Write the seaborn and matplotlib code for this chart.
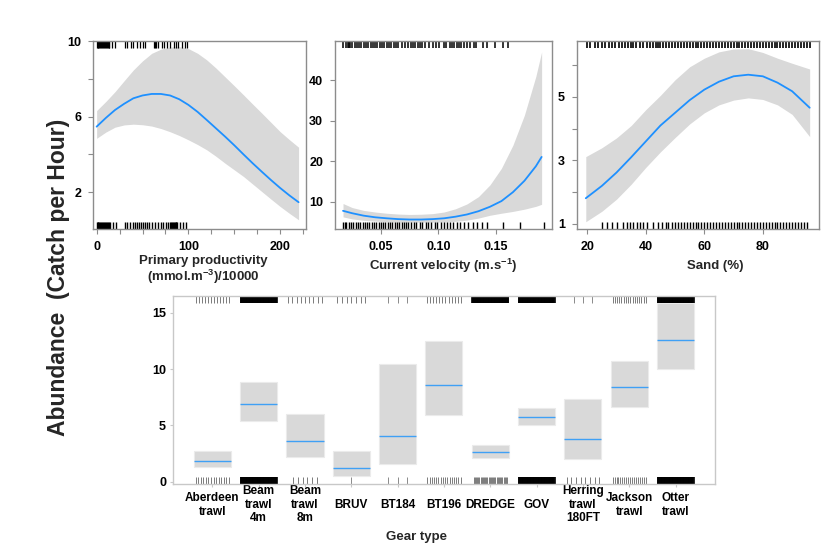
import numpy as np
import seaborn as sns
import matplotlib.pyplot as plt

sns.set_theme(style='ticks')
plt.rcParams['font.family'] = ['Liberation Sans', 'DejaVu Sans']
plt.rcParams['font.weight'] = 'bold'
plt.rcParams['mathtext.default'] = 'regular'

# ---- data ----
# primary productivity
pp_x = [0, 10, 20, 30, 40, 50, 60, 70, 80, 90, 100, 110, 120, 130, 140, 150, 160, 170,
        180, 190, 200, 210, 220]
pp_fit = [5.47, 5.93, 6.35, 6.68, 6.97, 7.12, 7.2, 7.2, 7.12, 6.92, 6.62, 6.25, 5.82, 5.38,
          4.94, 4.48, 4.0, 3.53, 3.08, 2.64, 2.22, 1.83, 1.47]
pp_lo = [4.85, 5.18, 5.44, 5.56, 5.6, 5.57, 5.5, 5.37, 5.2, 5.0, 4.77, 4.52, 4.24, 3.9, 3.53,
         3.18, 2.83, 2.43, 2.03, 1.63, 1.24, 0.88, 0.54]
pp_hi = [6.32, 6.8, 7.32, 7.9, 8.47, 8.95, 9.35, 9.57, 9.68, 9.7, 9.6, 9.35, 9.0, 8.57, 8.1,
         7.63, 7.15, 6.66, 6.18, 5.69, 5.2, 4.78, 4.38]
pp_rug_top = [0, 1, 2, 3, 4, 5, 6, 7, 8, 9, 10, 11, 12, 13, 14, 17, 20, 31, 33, 37, 40,
              44, 47, 50, 53, 62, 63.5, 65, 67, 71, 73, 77, 80, 84, 86, 89, 93, 96, 98]
pp_rug_bot = [0, 1, 2, 3, 4, 5, 6, 7, 8, 9, 10, 11, 12, 13, 15, 18, 21, 31, 33.4, 36.3,
              39.2, 41.7, 43.6, 46.5, 48, 50, 52.7, 55.2, 57.4, 60, 63.6, 67.2, 69.8, 72.7,
              75.6, 78.2, 80, 81, 82, 83, 84, 85, 86, 87, 88, 91, 94, 97.6]

# current velocity
cv_x = [0.017, 0.025, 0.035, 0.045, 0.055, 0.065, 0.075, 0.085, 0.095, 0.105, 0.115, 0.125,
        0.135, 0.145, 0.155, 0.165, 0.175, 0.185, 0.19]
cv_fit = [7.8, 7.2, 6.6, 6.2, 5.95, 5.75, 5.65, 5.65, 5.75, 5.95, 6.35, 6.9, 7.7, 8.8, 10.2,
          12.4, 15.2, 18.8, 21.1]
cv_lo = [6.3, 5.8, 5.45, 5.25, 5.1, 5.0, 5.0, 5.0, 5.0, 5.05, 5.2, 5.5, 6.0, 6.7, 7.2, 7.65,
         8.2, 8.9, 9.4]
cv_hi = [9.6, 8.6, 7.9, 7.5, 7.2, 7.0, 6.9, 6.95, 7.1, 7.5, 8.3, 9.5, 11.3, 14.2, 18.3, 24.0,
         31.4, 41.0, 47.0]
cv_rug_top = [0.017, 0.020, 0.021, 0.022, 0.023, 0.025, 0.027, 0.029, 0.031, 0.033, 0.035,
              0.037, 0.039, 0.041, 0.043, 0.045, 0.047, 0.049, 0.051, 0.053, 0.055, 0.057,
              0.059, 0.061, 0.063, 0.065, 0.068, 0.071, 0.074, 0.076, 0.078, 0.080, 0.082,
              0.084, 0.086, 0.088, 0.092, 0.095, 0.098, 0.101, 0.105, 0.107, 0.110, 0.112,
              0.114, 0.116, 0.118, 0.120, 0.122, 0.125, 0.128, 0.131, 0.133, 0.139, 0.142,
              0.149, 0.156, 0.161]
cv_rug_bot = [0.017, 0.019, 0.020, 0.022, 0.024, 0.026, 0.028, 0.030, 0.032, 0.034, 0.036,
              0.038, 0.040, 0.042, 0.044, 0.046, 0.048, 0.050, 0.052, 0.054, 0.056, 0.058,
              0.060, 0.062, 0.064, 0.066, 0.068, 0.070, 0.072, 0.074, 0.076, 0.079, 0.081,
              0.084, 0.086, 0.089, 0.091, 0.094, 0.097, 0.099, 0.102, 0.105, 0.108, 0.110,
              0.113, 0.116, 0.119, 0.122, 0.126, 0.130, 0.134, 0.138, 0.142, 0.156, 0.171,
              0.1925]

# sand
sd_x = [19.5, 25, 30, 35, 40, 45, 50, 55, 60, 65, 70, 75, 80, 85, 90, 96]
sd_fit = [1.81, 2.2, 2.62, 3.1, 3.6, 4.1, 4.5, 4.9, 5.23, 5.48, 5.65, 5.7, 5.65, 5.45, 5.18, 4.66]
sd_lo = [1.07, 1.4, 1.78, 2.25, 2.78, 3.27, 3.72, 4.15, 4.5, 4.75, 4.9, 4.97, 4.92, 4.75, 4.45, 3.75]
sd_hi = [3.12, 3.4, 3.71, 4.1, 4.6, 5.05, 5.54, 5.95, 6.22, 6.42, 6.51, 6.52, 6.4, 6.22, 6.06, 5.88]
sd_rug_top = [19.8, 20.9, 22.6, 23.5, 25, 26, 27.3, 28.5, 29.6, 30.8, 32, 33, 34, 34.8, 35.7,
              36.8, 38, 39.2, 40.3, 41.5, 42.6, 43.5, 44.3, 45, 46, 47, 48, 49, 50, 51, 52,
              53, 54, 55, 56, 57, 58, 59, 60, 61, 62, 63, 64, 65, 66, 67, 68, 69, 70, 71, 72,
              73, 74, 75, 76, 77, 78, 79, 80, 81, 82, 83, 84, 85, 86, 87, 88, 89, 90, 91, 92,
              93, 94, 95, 96]
sd_rug_bot = [24.9, 26.6, 28.3, 30, 32.3, 33.5, 34.7, 35.7, 36.9, 38, 39.2, 40.3, 42.6, 44.3,
              45.7, 46.8, 47.7, 48.8, 50, 51, 52, 53, 54, 55, 56, 57, 58, 59, 60, 61, 62, 63,
              64, 65, 66, 67, 68, 69, 70, 71, 72, 73, 74, 75, 76, 77, 78, 79, 80, 81, 82, 83,
              84, 85, 86, 87, 88, 89, 90, 91, 92, 93, 94, 95]

# gear type
gears = ['Aberdeen\ntrawl', 'Beam\ntrawl\n4m', 'Beam\ntrawl\n8m', 'BRUV', 'BT184', 'BT196',
         'DREDGE', 'GOV', 'Herring\ntrawl\n180FT', 'Jackson\ntrawl', 'Otter\ntrawl']
gear_fit = [1.85, 6.95, 3.6, 1.18, 4.08, 8.6, 2.6, 5.77, 3.81, 8.43, 12.63]
gear_lo = [1.27, 5.44, 2.18, 0.53, 1.62, 5.91, 2.1, 5.06, 2.0, 6.65, 10.03]
gear_hi = [2.7, 8.84, 6.03, 2.7, 10.5, 12.48, 3.25, 6.56, 7.39, 10.7, 15.9]
gear_n_top = [12, 60, 9, 7, 3, 12, 60, 60, 3, 16, 60]
gear_n_bot = [14, 60, 6, 1, 3, 16, 30, 60, 8, 18, 60]

# ---- figure ----
fig = plt.figure(figsize=(8.3, 5.6), dpi=100)
blue = '#1E90FF'
band = '#D9D9D9'
frame_top = '#8C8C8C'


def style_axes(ax, frame):
    for s in ax.spines.values():
        s.set_color(frame)
        s.set_linewidth(1.0)
    ax.tick_params(which='both', colors=frame, labelcolor='black', length=3.6,
                   width=0.8, pad=5, labelsize=9)


def rugs(ax, top, bot, lw):
    sns.rugplot(x=bot, height=0.035, ax=ax, color='black', lw=lw)
    ax.vlines(top, 0.965, 1, transform=ax.get_xaxis_transform(), color='black', lw=lw)


def smooth_panel(rect, x, fit, lo, hi, top, bot, lw):
    ax = fig.add_axes(rect)
    ax.fill_between(x, lo, hi, color=band, lw=0)
    sns.lineplot(x=x, y=fit, ax=ax, color=blue, lw=1.3)
    rugs(ax, top, bot, lw)
    style_axes(ax, frame_top)
    return ax


ax1 = smooth_panel([0.112, 0.591, 0.2566, 0.3357], pp_x, pp_fit, pp_lo, pp_hi,
                   pp_rug_top, pp_rug_bot, 0.9)
ax1.set_xlim(-4, 228)
ax1.set_ylim(0.05, 10.0)
ax1.set_xticks([0, 100, 200])
ax1.set_xticks([25, 50, 75, 125, 150, 175, 225], minor=True)
ax1.set_yticks([2, 6, 10])
ax1.set_yticks([4, 8], minor=True)
ax1.set_xlabel('Primary productivity\n(mmol.m$^{-3}$)/10000', fontsize=9.5,
               fontweight='bold', va='center', linespacing=1.05)
ax1.xaxis.set_label_coords(0.52, -0.22)

ax2 = smooth_panel([0.4036, 0.591, 0.2614, 0.3357], cv_x, cv_fit, cv_lo, cv_hi,
                   cv_rug_top, cv_rug_bot, 1.1)
ax2.set_xlim(0.010, 0.199)
ax2.set_ylim(3.3, 49.7)
ax2.set_xticks([0.05, 0.10, 0.15])
ax2.set_xticklabels(['0.05', '0.10', '0.15'])
ax2.set_yticks([10, 20, 30, 40])
ax2.set_xlabel('Current velocity (m.s$^{-1}$)', fontsize=9.5, fontweight='bold', va='center')
ax2.xaxis.set_label_coords(0.5, -0.195)

ax3 = smooth_panel([0.6952, 0.591, 0.2916, 0.3357], sd_x, sd_fit, sd_lo, sd_hi,
                   sd_rug_top, sd_rug_bot, 1.2)
ax3.set_xlim(16.5, 99.2)
ax3.set_ylim(0.84, 6.76)
ax3.set_xticks([20, 40, 60, 80])
ax3.set_yticks([1, 3, 5])
ax3.set_yticks([2, 4, 6], minor=True)
ax3.set_xlabel('Sand (%)', fontsize=9.5, fontweight='bold', va='center')
ax3.xaxis.set_label_coords(0.57, -0.195)

# gear type panel
ax4 = fig.add_axes([0.2084, 0.1357, 0.653, 0.3357])
pos = np.arange(len(gears))
ax4.bar(pos, np.array(gear_hi) - np.array(gear_lo), bottom=gear_lo, width=0.8,
        color=band, edgecolor='#EBEBEB', lw=0.8)
ax4.hlines(gear_fit, pos - 0.4, pos + 0.4, color='#3FA0F5', lw=1.0)
for i in range(len(gears)):
    for n, y0, y1 in [(gear_n_top[i], 0.965, 1.0), (gear_n_bot[i], 0.0, 0.035)]:
        if n >= 40:
            xs, col, lw = np.linspace(-0.39, 0.39, n), 'black', 1.2
        elif n == 1:
            xs, col, lw = np.array([0.0]), '#777777', 0.6
        elif n <= 3:
            xs, col, lw = np.linspace(-0.2, 0.2, n), '#777777', 0.6
        else:
            w = min(0.36, 0.05 * (n - 1))
            xs, col, lw = np.linspace(-w, w, n), '#666666', 0.6
        ax4.vlines(i + xs, y0, y1, transform=ax4.get_xaxis_transform(), color=col, lw=lw)
ax4.set_xlim(-0.85, 10.85)
ax4.set_ylim(-0.2, 16.5)
ax4.set_yticks([0, 5, 10, 15])
ax4.set_xticks(pos)
ax4.set_xticklabels(gears, va='center', linespacing=1.15)
style_axes(ax4, '#C8C8C8')
ax4.tick_params(axis='x', length=2, pad=13, labelsize=8.5)
ax4.tick_params(axis='y', length=2, pad=3)
ax4.set_xlabel('Gear type', fontsize=9.5, fontweight='bold', va='center')
ax4.xaxis.set_label_coords(0.45, -0.282)

fig.text(0.07, 0.504, 'Abundance  (Catch per Hour)', rotation=90, fontsize=16.5,
         fontweight='bold', ha='center', va='center')

fig.savefig('out.png', dpi=100)
